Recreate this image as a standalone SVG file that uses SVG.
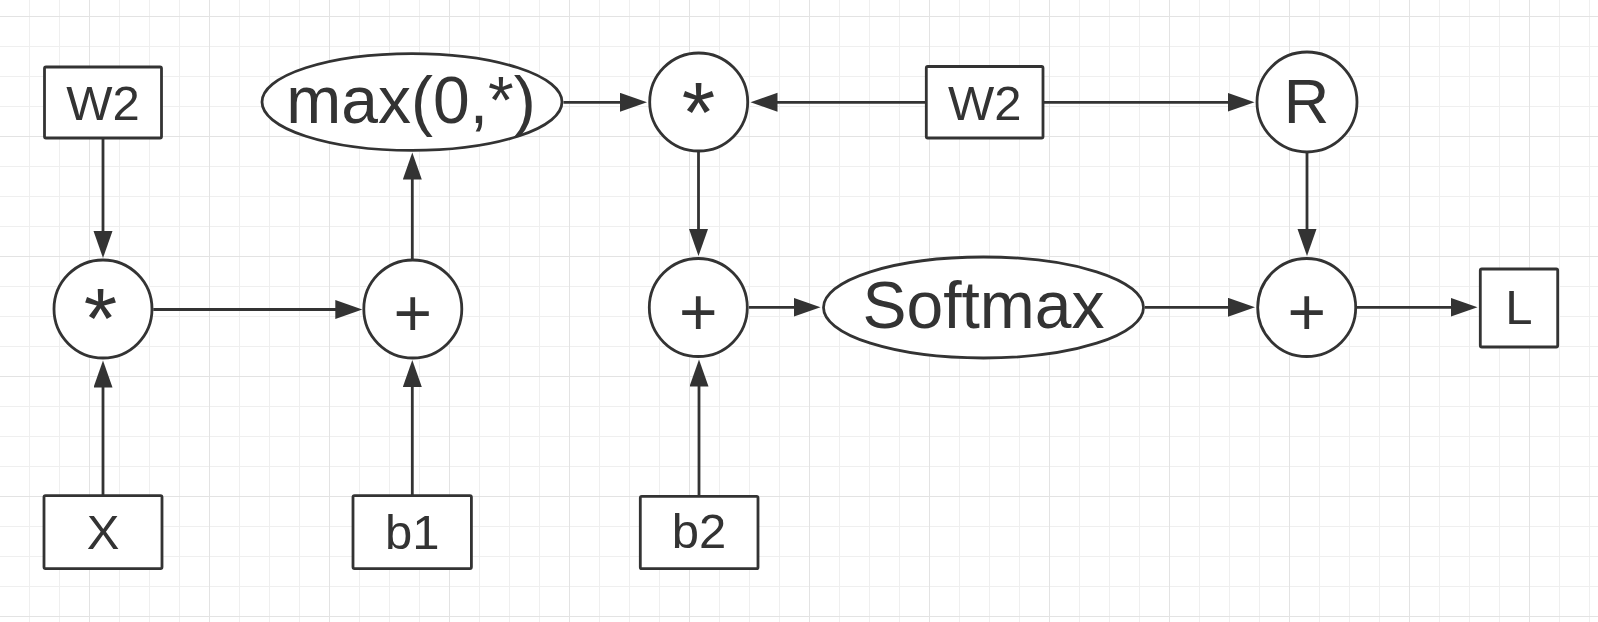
<svg xmlns="http://www.w3.org/2000/svg" width="1598" height="622" viewBox="0 0 1598 622">
<style>
.n{fill:#ffffff;stroke:#333333;stroke-width:2.8}
.c{fill:none;stroke:#333333;stroke-width:2.8}
.t{font-family:"Liberation Sans",Arial,Helvetica,sans-serif;fill:#333333;text-anchor:middle}
.big{font-size:66px}
.box{font-size:49px}
.ast{font-size:86px}
</style>
<defs>
<pattern id="grid" patternUnits="userSpaceOnUse" x="89" y="16" width="120" height="120">
<path d="M30.5 0V120M60.5 0V120M90.5 0V120M0 30.5H120M0 60.5H120M0 90.5H120" stroke="#efefef" stroke-width="1" fill="none"/>
<path d="M0.5 0V120M0 0.5H120" stroke="#e3e3e3" stroke-width="1" fill="none"/>
</pattern>
<marker id="ah" markerUnits="userSpaceOnUse" markerWidth="28" markerHeight="20" refX="8" refY="9.5" orient="auto">
<path d="M0 0L27 9.5L0 19Z" fill="#333333"/>
</marker>
</defs>
<rect width="1598" height="622" fill="#ffffff"/>
<rect width="1598" height="622" fill="url(#grid)"/>

<g id="connectors">
<path class="c" d="M103 139V239" marker-end="url(#ah)"/>
<path class="c" d="M103 495V379.5" marker-end="url(#ah)"/>
<path class="c" d="M153.3 309.5H343.3" marker-end="url(#ah)"/>
<path class="c" d="M412.3 495V379" marker-end="url(#ah)"/>
<path class="c" d="M412.3 259V171.5" marker-end="url(#ah)"/>
<path class="c" d="M563.5 102.3H628" marker-end="url(#ah)"/>
<path class="c" d="M925 102.3H769.5" marker-end="url(#ah)"/>
<path class="c" d="M1044 102.3H1235.5" marker-end="url(#ah)"/>
<path class="c" d="M698.5 152V237" marker-end="url(#ah)"/>
<path class="c" d="M699 495V378.5" marker-end="url(#ah)"/>
<path class="c" d="M749 307.3H801.5" marker-end="url(#ah)"/>
<path class="c" d="M1145 307.3H1236" marker-end="url(#ah)"/>
<path class="c" d="M1307 153V237" marker-end="url(#ah)"/>
<path class="c" d="M1357 307.3H1458.5" marker-end="url(#ah)"/>
</g>

<g id="w2-left">
<rect class="n" x="44.5" y="67" width="117" height="71" rx="1.5"/>
<text class="t box" x="103" y="119.5">W2</text>
</g>
<g id="mul-left">
<circle class="n" cx="103" cy="309" r="49"/>
<text class="t ast" x="100.5" y="347.5">*</text>
</g>
<g id="x-input">
<rect class="n" x="44" y="495.6" width="118" height="73" rx="1.5"/>
<text class="t box" x="103" y="548.5">X</text>
</g>
<g id="add-left">
<circle class="n" cx="412.8" cy="309" r="49"/>
<text class="t big" x="412.8" y="336.3">+</text>
</g>
<g id="b1">
<rect class="n" x="353" y="495.6" width="118.4" height="73" rx="1.5"/>
<text class="t box" x="412.3" y="548.5">b1</text>
</g>
<g id="relu">
<ellipse class="n" cx="412" cy="102" rx="150" ry="48.4"/>
<text class="t big" x="411" y="123.3">max(0,*)</text>
</g>
<g id="mul-mid">
<circle class="n" cx="698.7" cy="102" r="49"/>
<text class="t ast" x="698.5" y="142">*</text>
</g>
<g id="w2-mid">
<rect class="n" x="926.3" y="66.5" width="116.7" height="71.5" rx="1.5"/>
<text class="t box" x="984.7" y="119.5">W2</text>
</g>
<g id="r-node">
<circle class="n" cx="1307" cy="102" r="50"/>
<text class="t" style="font-size:63px" x="1306.5" y="122.7">R</text>
</g>
<g id="add-mid">
<circle class="n" cx="698.3" cy="307.5" r="49"/>
<text class="t big" x="698.3" y="334.5">+</text>
</g>
<g id="b2">
<rect class="n" x="640.3" y="496.3" width="117.7" height="72.4" rx="1.5"/>
<text class="t box" x="699" y="548">b2</text>
</g>
<g id="softmax">
<ellipse class="n" cx="983.5" cy="307.5" rx="160" ry="50.5"/>
<text class="t big" x="983.5" y="328.3">Softmax</text>
</g>
<g id="add-right">
<circle class="n" cx="1306.7" cy="307.5" r="49"/>
<text class="t big" x="1306.7" y="335">+</text>
</g>
<g id="l-node">
<rect class="n" x="1480.3" y="269" width="77.4" height="78" rx="1.5"/>
<text class="t box" x="1519" y="323.5">L</text>
</g>
</svg>
